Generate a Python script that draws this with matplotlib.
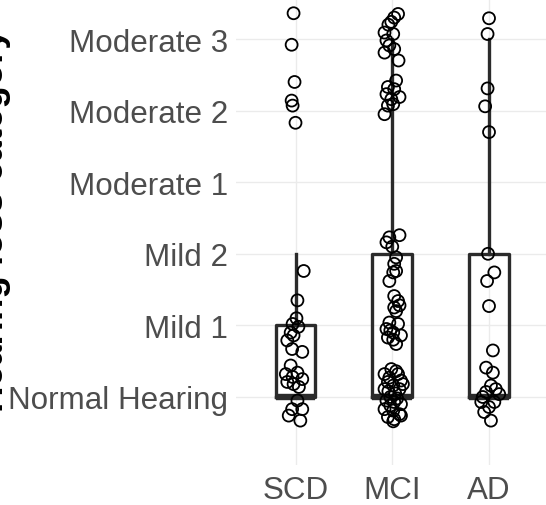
import numpy as np
import matplotlib
matplotlib.use("Agg")
import matplotlib.pyplot as plt

plt.rcParams['font.family'] = ['Liberation Sans', 'DejaVu Sans']

# Categories and tick labels
groups = ["SCD", "MCI", "AD"]
level_labels = ["Normal Hearing", "Mild 1", "Mild 2", "Moderate 1", "Moderate 2", "Moderate 3"]

# Box statistics per group (q1, median, q3, whisker low, whisker high)
box_q1 = [0, 0, 0]
box_med = [0, 0, 0]
box_q3 = [1, 2, 2]
box_wlo = [0, 0, 0]
box_whi = [2, 5, 5]

# Jittered points: horizontal offset from group centre, and value
scd_dx = [-0.02, -0.04, -0.01, -0.04, -0.03, 0.0, 0.085, 0.02, 0.01, -0.03, 0.03,
          -0.05, -0.02, -0.085, -0.035, 0.07, -0.05, -0.10, 0.02, 0.07, -0.085, -0.02,
          0.035, -0.03, 0.02, -0.035, 0.07, -0.07, 0.05]
scd_y = [5.36, 4.92, 4.40, 4.14, 4.07, 3.83, 1.76, 1.35, 1.10, 1.02, 0.98,
         0.90, 0.86, 0.79, 0.67, 0.63, 0.44, 0.32, 0.34, 0.25, 0.21, 0.18,
         0.14, 0.28, -0.05, -0.17, -0.17, -0.26, -0.33]

mci_dx = [0.06, 0.02, -0.01, -0.04, -0.08, 0.01, -0.06, -0.03, 0.02, -0.08, 0.065,
          0.04, -0.045, 0.02, 0.075, -0.01, -0.06, -0.045, 0.01, -0.08,
          0.075, -0.03, -0.06, 0.0, 0.04, 0.02, 0.04, 0.01, -0.03, 0.02, 0.06, 0.02, 0.075, 0.04,
          -0.03, 0.06, -0.06, 0.01, 0.09, -0.045, 0.04, -0.02, 0.01,
          -0.01, -0.08, 0.06, 0.09, -0.045, 0.01, -0.08, 0.075, 0.11, -0.03, 0.03,
          -0.06, 0.02, 0.09, -0.08, 0.01, 0.075, -0.045, 0.02, 0.09, -0.02, 0.05,
          -0.04, 0.04, -0.02, 0.01]
mci_y = [5.35, 5.30, 5.24, 5.20, 5.09, 5.07, 4.98, 4.91, 4.86, 4.81, 4.70,
         4.42, 4.33, 4.30, 4.19, 4.16, 4.23, 4.07, 4.09, 3.95,
         2.26, 2.23, 2.16, 2.10, 1.95, 1.86, 1.76, 1.74, 1.62, 1.41, 1.34, 1.25, 1.28, 1.20,
         1.04, 1.02, 0.95, 0.90, 0.86, 0.83, 0.74, 0.93, 0.80,
         0.39, 0.32, 0.32, 0.23, 0.21, 0.16, 0.11, 0.11, 0.18, 0.27, 0.05,
         -0.05, -0.07, -0.10, -0.17, -0.19, -0.24, -0.28, -0.31, -0.26, 0.0, -0.02,
         0.08, 0.36, -0.12, -0.34]

ad_dx = [0.0, -0.015, -0.015, -0.04, 0.0, -0.01, 0.055, -0.02, 0.0, 0.04, -0.03,
         0.04, 0.02, 0.07, -0.03, 0.105, -0.065, -0.08, 0.055, 0.0, -0.05, 0.02]
ad_y = [5.29, 5.07, 4.31, 4.06, 3.70, 2.0, 1.74, 1.62, 1.27, 0.65, 0.41,
        0.34, 0.16, 0.11, 0.07, 0.04, 0.0, -0.07, -0.07, -0.14, -0.21, -0.33]

W, H = 546, 506
fig = plt.figure(figsize=(W / 100, H / 100), dpi=100)
ax = fig.add_axes([236 / W, 40 / H, 1 - 236 / W, 1 - 40 / H])

positions = [0, 1, 2]
stats = []
for i, g in enumerate(groups):
    stats.append(dict(label=g, q1=box_q1[i], med=box_med[i], q3=box_q3[i],
                      whislo=box_wlo[i], whishi=box_whi[i], fliers=[]))

line_col = '#2b2b2b'
ax.bxp(stats, positions=positions, widths=0.41, showfliers=False, showcaps=False,
       patch_artist=False,
       boxprops=dict(color=line_col, linewidth=2.4),
       whiskerprops=dict(color=line_col, linewidth=2.4),
       medianprops=dict(color=line_col, linewidth=4.6, solid_capstyle='butt'),
       zorder=2)

for i, (dx, y) in enumerate([(scd_dx, scd_y), (mci_dx, mci_y), (ad_dx, ad_y)]):
    x = positions[i] + np.array(dx)
    ax.scatter(x, y, s=74, facecolors='none', edgecolors='black', linewidths=1.3, zorder=3)

ax.set_xlim(-0.615, 2.589)
ax.set_ylim(-0.95, 5.559)
ax.set_yticks(range(len(level_labels)))
ax.set_yticklabels(level_labels)
ax.set_xticks(positions)
ax.set_xticklabels(groups)
ax.tick_params(axis='both', length=0, labelsize=22.6, labelcolor='#4d4d4d')
ax.tick_params(axis='y', pad=5.8)
ax.tick_params(axis='x', pad=7)
for s in ax.spines.values():
    s.set_visible(False)
ax.grid(True, color='#ebebeb', linewidth=1.0)
ax.set_axisbelow(True)

fig.text(11 / W, 1 - 220 / H, 'Hearing loss category', rotation=90, ha='right', va='center',
         fontsize=26.5, fontweight='bold', color='black')

fig.savefig('out.png', dpi=100)
